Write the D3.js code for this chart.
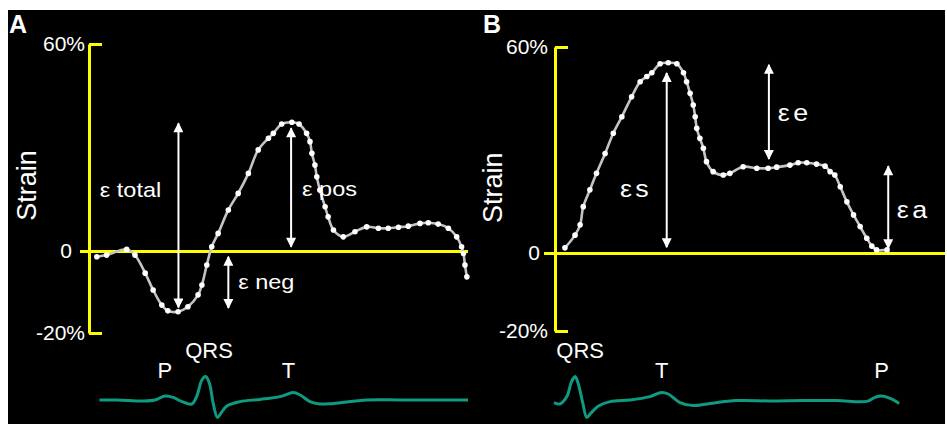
<!DOCTYPE html>
<meta charset="utf-8">
<html>
<head>
<style>
  body { margin: 0; background: #fff; }
  svg { display: block; }
  text { font-family: "Liberation Sans", Arial, sans-serif; fill: #fff; }
</style>
<script src="https://d3js.org/d3.v7.min.js"></script>
</head>
<body>
<svg width="947" height="427"></svg>
<script>
// strain curves: t = % of cardiac cycle, s = strain %
var strainA_t = [1.8, 4.4, 9.7, 11.9, 14.6, 16.7, 19.0, 20.6, 23.3, 25.9, 28.6, 29.6, 30.9, 32.2, 33.9, 36.6, 39.2, 41.9, 44.5, 47.2, 48.5, 50.7, 53.4, 55.3, 57.3, 58.2, 58.7, 59.5, 60.0, 60.8, 62.2, 63.0, 64.4, 67.0, 70.1, 73.2, 76.3, 78.9, 81.6, 84.2, 87.3, 89.5, 92.1, 94.8, 97.0, 98.3, 98.8, 99.2, 99.7];
var strainA_s = [-1.4, -1.0, 0.5, -1.0, -5.4, -9.5, -13.2, -14.6, -14.8, -13.6, -10.7, -8.3, -3.4, 1.2, 5.1, 11.9, 16.7, 22.5, 29.3, 32.7, 34.1, 36.8, 37.3, 36.8, 34.1, 31.7, 28.3, 24.9, 21.5, 17.7, 12.8, 9.9, 6.1, 4.1, 5.6, 7.0, 6.6, 6.6, 6.9, 7.2, 8.0, 8.2, 7.8, 6.6, 4.1, 1.2, -0.6, -3.4, -6.3];

var strainB_t = [2.8, 5.4, 6.7, 7.5, 9.2, 10.9, 13.1, 15.2, 17.4, 19.9, 22.1, 23.8, 25.1, 27.2, 29.3, 31.5, 33.2, 34.0, 34.9, 35.7, 36.2, 36.6, 37.4, 38.3, 39.1, 40.8, 43.4, 45.1, 48.5, 52.0, 54.9, 57.1, 60.5, 62.6, 64.8, 67.3, 69.5, 70.8, 72.0, 73.4, 75.1, 76.8, 78.5, 80.2, 81.5, 82.7, 85.4];
var strainB_s = [1.5, 5.2, 8.2, 13.5, 18.4, 23.2, 29.0, 34.9, 39.7, 45.5, 49.9, 51.4, 52.5, 55.1, 55.4, 55.1, 52.5, 49.9, 46.5, 43.1, 39.7, 36.3, 33.4, 30.5, 26.6, 23.7, 22.7, 23.2, 25.1, 24.7, 24.7, 25.0, 25.6, 26.3, 26.3, 25.9, 25.3, 23.7, 22.7, 19.3, 14.9, 11.1, 7.7, 4.3, 2.0, 0.9, 0.9];

// ECG traces: t = % of cycle, v = amplitude (mV-ish)
var ecgA_t = [2.5, 7.1, 14.1, 17.2, 19.8, 22.0, 24.3, 26.9, 28.2, 29.6, 30.6, 31.6, 32.6, 33.7, 34.6, 36.2, 39.7, 45.0, 50.3, 53.8, 55.6, 58.2, 60.8, 64.4, 73.2, 82.0, 90.8, 100];
var ecgA_v = [0, 0, -0.05, 0, 0.2, 0.13, -0.08, -0.2, 0.17, 1.0, 1.17, 0.83, -0.17, -0.87, -0.67, -0.3, -0.08, 0.03, 0.17, 0.37, 0.25, -0.08, -0.2, -0.17, 0, 0, 0, 0];
var ecgB_t = [0, 1.5, 3.3, 4.5, 5.4, 6.2, 7.4, 8.4, 9.4, 11.4, 14.4, 19.5, 24.6, 27.6, 29.3, 32.3, 35.7, 40.0, 46.8, 55.4, 63.9, 72.5, 80.2, 82.3, 84.0, 86.2, 88.5];
var ecgB_v = [-0.13, -0.2, 0.17, 0.92, 1.17, 0.83, -0.17, -0.87, -0.67, -0.3, -0.08, 0, 0.17, 0.38, 0.3, -0.13, -0.28, -0.17, -0.03, -0.05, -0.03, -0.03, -0.07, 0.13, 0.2, 0.08, -0.17];

var yTicks = [-20, 0, 60];
var yTickLabels = ["-20%", "0", "60%"];

// double arrows: t, strain range s0..s1, label and its anchor (lt, ls)
var arrowsA = [
  {t: 23.4, s0: -13.8, s1: 37.0, label: "\u03b5 total", lt: 2.6, ls: 17.7},
  {t: 53.2, s0: 1.2, s1: 35.6, label: "\u03b5 pos", lt: 56.1, ls: 18.0},
  {t: 36.6, s0: -1.4, s1: -13.9, label: "\u03b5 neg", lt: 39.2, ls: -7.6}
];
var arrowsB = [
  {t: 28.9, s0: 1.7, s1: 52.4, label: "\u03b5s", lt: 16.9, ls: 18.9},
  {t: 55.1, s0: 27.4, s1: 54.8, label: "\u03b5e", lt: 57.4, ls: 40.8},
  {t: 85.7, s0: 1.4, s1: 25.3, label: "\u03b5a", lt: 87.9, ls: 12.5}
];

var ecgA_labels = [{t: 19.8, text: "P", y: 370}, {t: 31.5, text: "QRS", y: 350}, {t: 52.5, text: "T", y: 370}];
var ecgB_labels = [{t: 6.7, text: "QRS", y: 350}, {t: 27.6, text: "T", y: 370}, {t: 84.0, text: "P", y: 370}];

var svg = d3.select("svg");
svg.append("rect").attr("x", 8).attr("y", 10).attr("width", 937).attr("height", 414).attr("fill", "#000");

var defs = svg.append("defs");
defs.append("marker").attr("id", "head")
  .attr("viewBox", "0 0 10 10").attr("refX", 9).attr("refY", 5)
  .attr("markerWidth", 13).attr("markerHeight", 10).attr("markerUnits", "userSpaceOnUse")
  .attr("orient", "auto-start-reverse")
  .append("path").attr("d", "M0,0L10,5L0,10Z").attr("fill", "#fff");

function panel(o) {
  var x = d3.scaleLinear().domain([0, 100]).range(o.xr);
  var y = d3.scaleLinear().domain([-20, 0, 60]).range(o.yr);
  var ye = d3.scaleLinear().domain([0, 1]).range([o.ecgBase, o.ecgBase - 20]);
  var g = svg.append("g");

  // panel letter
  g.append("text").attr("x", o.letterX).attr("y", 33)
    .style("font-size", "25px").style("font-weight", "bold").text(o.letter);

  // y axis
  var axis = d3.axisLeft(y).tickValues(yTicks).tickSizeInner(-13).tickSizeOuter(0)
    .tickFormat((d, i) => yTickLabels[i]).tickPadding(6);
  var ax = g.append("g").attr("transform", "translate(" + o.axisX + ",0)").call(axis);
  ax.select(".domain").attr("stroke", "#ffff00").attr("stroke-width", 3);
  ax.selectAll(".tick line").attr("stroke", "#ffff00").attr("stroke-width", 3);
  ax.selectAll(".tick text").attr("fill", "#fff").style("font-size", "21px")
    .style("font-family", '"Liberation Sans", Arial, sans-serif');
  ax.selectAll(".tick").filter(d => d === 0).each(function() {
    d3.select(this).select("line").attr("x1", -o.zeroLeft).attr("x2", o.zeroRight - o.axisX);
    d3.select(this).select("text").attr("x", -o.zeroPad);
  });
  ax.selectAll(".tick").filter(d => d !== 0).select("text").attr("x", -o.tickPad);

  g.append("text")
    .attr("transform", "translate(" + o.strainX + "," + y(19) + ") rotate(-90)")
    .attr("text-anchor", "middle").attr("dy", "0.35em")
    .style("font-size", "27px").text("Strain");

  // strain curve
  var pts = o.st.map((t, i) => [t, o.ss[i]]);
  g.append("path").datum(pts)
    .attr("d", d3.line().x(d => x(d[0])).y(d => y(d[1])).curve(d3.curveCatmullRom))
    .attr("fill", "none").attr("stroke", "#c4c4c4").attr("stroke-width", 2.6);
  g.selectAll(".dot").data(pts).enter().append("circle")
    .attr("cx", d => x(d[0])).attr("cy", d => y(d[1])).attr("r", 2.8)
    .attr("fill", "#fff");

  // arrows
  o.arrows.forEach(a => {
    g.append("line")
      .attr("x1", x(a.t)).attr("x2", x(a.t))
      .attr("y1", y(a.s0)).attr("y2", y(a.s1))
      .attr("stroke", "#fff").attr("stroke-width", 2)
      .attr("marker-start", "url(#head)").attr("marker-end", "url(#head)");
    g.append("text").attr("x", x(a.lt)).attr("y", y(a.ls)).attr("dy", "0.35em")
      .attr("transform", "translate(" + x(a.lt) + ",0) scale(1.12,1) translate(" + (-x(a.lt)) + ",0)")
      .style("font-size", o.labelSize).style("letter-spacing", o.spacing).text(a.label);
  });

  // ECG
  var ep = o.et.map((t, i) => [t, o.ev[i]]);
  g.append("path").datum(ep)
    .attr("d", d3.line().x(d => x(d[0])).y(d => ye(d[1])).curve(d3.curveCatmullRom))
    .attr("fill", "none").attr("stroke", "#0f9a82").attr("stroke-width", 3)
    .attr("stroke-linejoin", "round");
  g.selectAll(".ecgl").data(o.elabels).enter().append("text")
    .attr("x", d => x(d.t)).attr("y", d => d.y).attr("text-anchor", "middle").attr("dy", "0.35em")
    .style("font-size", "22px").text(d => d.text);
}

panel({
  letter: "A", letterX: 9, xr: [90, 468], yr: [333, 251, 44], axisX: 89,
  zeroLeft: 9, zeroRight: 468, zeroPad: 17, tickPad: 4, strainX: 27, ecgBase: 400,
  st: strainA_t, ss: strainA_s, et: ecgA_t, ev: ecgA_v, arrows: arrowsA, elabels: ecgA_labels,
  labelSize: "21px", spacing: "0px"
});
panel({
  letter: "B", letterX: 483, xr: [554, 944], yr: [331, 253, 47], axisX: 555,
  zeroLeft: 11, zeroRight: 945, zeroPad: 15, tickPad: 7, strainX: 493, ecgBase: 400,
  st: strainB_t, ss: strainB_s, et: ecgB_t, ev: ecgB_v, arrows: arrowsB, elabels: ecgB_labels,
  labelSize: "24px", spacing: "3px"
});
</script>
</body>
</html>
